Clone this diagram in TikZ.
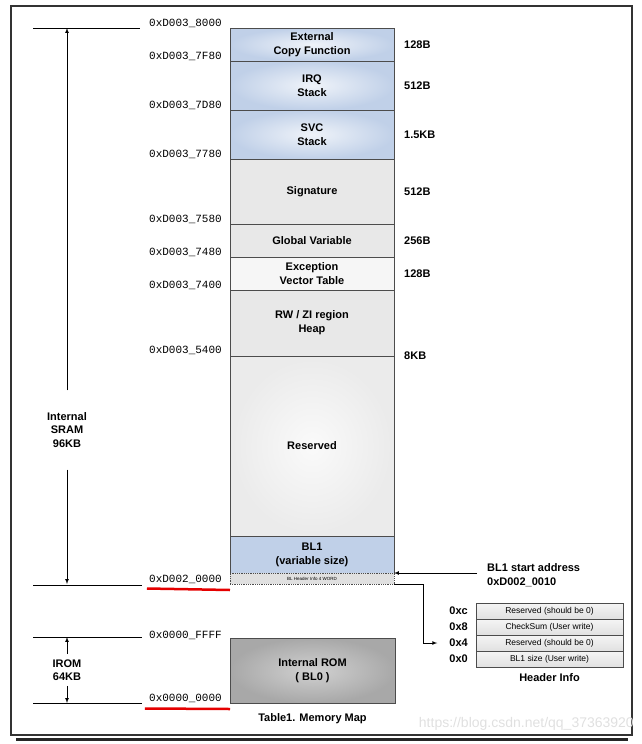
\documentclass[tikz,border=0pt]{standalone}
\usepackage{fontspec}
\setmainfont{Liberation Sans}
\setmonofont{Liberation Mono}
\usepackage{tikz}
\usetikzlibrary{shapes, arrows, calc, positioning}
\definecolor{memblue}{RGB}{192,208,232}
\definecolor{memgray}{RGB}{232,232,232}
\definecolor{memwhite}{RGB}{246,246,246}
\definecolor{romgray}{RGB}{168,168,168}
\tikzstyle{mem} = [draw=black!70, rectangle, line width=0.8pt, minimum width=164pt, inner sep=0pt, outer sep=0pt, align=center, font=\fontsize{11}{14}\selectfont\bfseries]
\tikzstyle{bluebox} = [mem, inner color=memblue!25!white, outer color=memblue]
\tikzstyle{graybox} = [mem, fill=memgray]
\tikzstyle{addr} = [font=\ttfamily\fontsize{11}{12}\selectfont, inner sep=0pt, anchor=base east]
\tikzstyle{sizelbl} = [font=\fontsize{11}{12}\selectfont\bfseries, inner sep=0pt]
\tikzstyle{dimlbl} = [font=\fontsize{11}{13.5}\selectfont\bfseries, inner xsep=0pt, align=center]
\tikzstyle{hrow} = [draw=black!70, rectangle, line width=0.6pt, minimum width=147pt, minimum height=16pt, inner sep=0pt, outer sep=0pt, top color=white!96!black, bottom color=white!88!black, font=\fontsize{8.5}{10}\selectfont]
\tikzstyle{offlbl} = [font=\fontsize{11}{12}\selectfont\bfseries, inner sep=0pt]
\tikzstyle{caption} = [font=\fontsize{11}{14}\selectfont\bfseries, inner sep=0pt]
\tikzstyle{wire} = [->, >=latex, line width=0.7pt]
\tikzstyle{tick} = [line width=0.7pt]
\tikzstyle{redline} = [red!90!black, line width=2.5pt]
\tikzstyle{frame} = [draw=black!80, line width=1.2pt]

\begin{document}
\begin{tikzpicture}[x=1pt, y=-1pt]
    \useasboundingbox (0,0) rectangle (642,744);
    % frame
    \draw[line width=3pt, black!85] (16,739) -- (628,739);
    \draw[frame] (11,6) -- (632,6) -- (632,735) -- (11,735) -- cycle;
    \node[anchor=east, inner sep=0pt, text=black!12, font=\fontsize{14}{14}\selectfont] (wmark) at (634,724) {https://blog.csdn.net/qq\_37363920};

    % internal SRAM column
    \node[bluebox, minimum height=33pt, anchor=north] (ecf) at (312,28) {External\\Copy Function};
    \node[bluebox, minimum height=49pt, below=0pt of ecf] (irq) {IRQ\\Stack};
    \node[bluebox, minimum height=49pt, below=0pt of irq] (svc) {SVC\\Stack};
    \node[graybox, minimum height=65pt, below=0pt of svc] (sig) {Signature};
    \node[graybox, minimum height=33pt, below=0pt of sig] (glob) {Global Variable};
    \node[graybox, fill=memwhite, minimum height=33pt, below=0pt of glob] (exc) {Exception\\Vector Table};
    \node[graybox, minimum height=66pt, below=0pt of exc] (heap) {RW / ZI region\\Heap};
    \node[graybox, inner color=white!98!black, outer color=white!92!black, minimum height=180pt, below=0pt of heap] (res) {Reserved};
    \node[mem, draw=none, fill=memblue, minimum height=37pt, below=0pt of res] (bl1) {BL1\\(variable size)};
    \node[mem, densely dotted, fill=black!12, minimum height=11pt, below=0pt of bl1, font=\fontsize{4.5}{5}\selectfont] (hdr) {BL Header Info 4 WORD};
    \draw[black!70, line width=0.8pt] (bl1.south west) -- (bl1.north west) -- (bl1.north east) -- (bl1.south east);

    % addresses
    \node[addr] (a8000) at ([xshift=-8pt,yshift=1.5pt]ecf.north west) {0xD003\_8000};
    \node[addr] (a7f80) at ([xshift=-8pt,yshift=1.5pt]irq.north west) {0xD003\_7F80};
    \node[addr] (a7d80) at ([xshift=-8pt,yshift=1.5pt]svc.north west) {0xD003\_7D80};
    \node[addr] (a7780) at ([xshift=-8pt,yshift=1.5pt]sig.north west) {0xD003\_7780};
    \node[addr] (a7580) at ([xshift=-8pt,yshift=1.5pt]glob.north west) {0xD003\_7580};
    \node[addr] (a7480) at ([xshift=-8pt,yshift=1.5pt]exc.north west) {0xD003\_7480};
    \node[addr] (a7400) at ([xshift=-8pt,yshift=1.5pt]heap.north west) {0xD003\_7400};
    \node[addr] (a5400) at ([xshift=-8pt,yshift=3pt]res.north west) {0xD003\_5400};
    \node[addr] (a20000) at ([xshift=-8pt,yshift=1.5pt]hdr.south west) {0xD002\_0000};
    \draw[redline] ($(a20000.base west)+(-2,6)$) -- ($(hdr.south west)+(0,6)$);

    % sizes
    \node[sizelbl, right=10pt of ecf] {128B};
    \node[sizelbl, right=10pt of irq] {512B};
    \node[sizelbl, right=10pt of svc] {1.5KB};
    \node[sizelbl, right=10pt of sig] {512B};
    \node[sizelbl, right=10pt of glob] {256B};
    \node[sizelbl, right=10pt of exc] {128B};
    \node[sizelbl, anchor=west] at ([xshift=10pt]heap.south east) {8KB};

    % SRAM dimension
    \coordinate (sramtop) at (67,28);
    \coordinate (srambot) at (67,584);
    \draw[tick] (33,28) -- (140,28);
    \draw[tick] (33,585) -- (142,585);
    \node[dimlbl, inner ysep=22pt] (sram) at (67,430) {Internal\\SRAM\\96KB};
    \draw[wire] (sram.north) -- (sramtop);
    \draw[wire] (sram.south) -- (srambot);

    % BL1 start address
    \node[caption, align=left, anchor=west] (bl1addr) at (487,575) {BL1 start address\\0xD002\_0010};
    \draw[wire, shorten <=10pt] (bl1addr.west |- hdr.north) -- (hdr.north east);

    % header info
    \node[hrow, anchor=north] (hc) at (549.5,603) {Reserved (should be 0)};
    \node[hrow, below=0pt of hc] (h8) {CheckSum (User write)};
    \node[hrow, below=0pt of h8] (h4) {Reserved (should be 0)};
    \node[hrow, below=0pt of h4] (h0) {BL1 size (User write)};
    \node[offlbl, left=8pt of hc] (oc) {0xc};
    \node[offlbl, left=8pt of h8] (o8) {0x8};
    \node[offlbl, left=8pt of h4] (o4) {0x4};
    \node[offlbl, left=8pt of h0] (o0) {0x0};
    \node[caption, below=6pt of h0] (hinfo) {Header Info};
    \draw[wire, shorten >=12pt] (hdr.south east) -- ++(29,0) |- (o4.west);

    % internal ROM
    \node[mem, inner color=white!82!black, outer color=romgray, minimum width=165pt, minimum height=65pt, anchor=north] (rom) at (312.5,638) {Internal ROM\\( BL0 )};
    \node[addr] (affff) at ([xshift=-8pt,yshift=0pt]rom.north west) {0x0000\_FFFF};
    \node[addr] (a00000) at ([xshift=-8pt,yshift=1.5pt]rom.south west) {0x0000\_0000};
    \draw[redline] ($(a00000.base west)+(-4,7)$) -- ($(rom.south west)+(0,6)$);
    \node[caption, below=10pt of rom] (table) {Table1. Memory Map};

    % IROM dimension
    \coordinate (iromtop) at (67,637);
    \coordinate (irombot) at (67,703);
    \draw[tick] (33,637) -- (142,637);
    \draw[tick] (33,703) -- (142,703);
    \node[dimlbl, inner ysep=5pt] (irom) at (67,670) {IROM\\64KB};
    \draw[wire] (irom.north) -- (iromtop);
    \draw[wire] (irom.south) -- (irombot);
\end{tikzpicture}
\end{document}
